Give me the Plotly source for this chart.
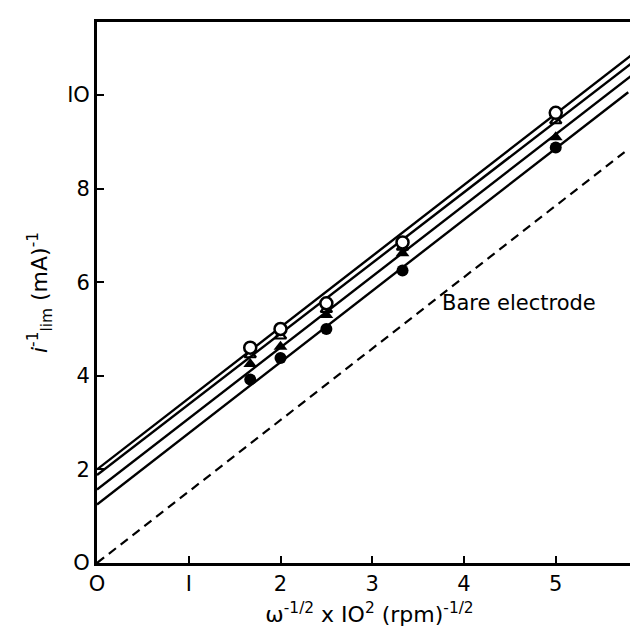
import plotly.graph_objects as go

# Data
x_pts = [1.67, 2.0, 2.5, 3.33, 5.0]
open_circles = [4.60, 5.00, 5.55, 6.85, 9.62]
open_triangles = [4.45, 4.85, 5.42, 6.75, 9.45]
filled_triangles = [4.25, 4.62, 5.30, 6.62, 9.10]
filled_circles = [3.92, 4.38, 5.00, 6.25, 8.88]

# fitted straight lines: (x start, x end) and (y start, y end)
fit_x = [[0, 5.87], [0, 5.86], [0, 5.85], [0, 5.79]]
fit_y = [[2.00, 10.92], [1.88, 10.73], [1.57, 10.45], [1.25, 10.06]]
bare_x = [0, 5.75]
bare_y = [0, 8.78]

x_ticks = [0, 1, 2, 3, 4, 5]
x_ticklabels = ["O", "I", "2", "3", "4", "5"]
y_ticks = [0, 2, 4, 6, 8, 10]
y_ticklabels = ["O", "2", "4", "6", "8", "IO"]

FONT = "DejaVu Sans"

fig = go.Figure()
for fx, fy in zip(fit_x, fit_y):
    fig.add_trace(go.Scatter(x=fx, y=fy, mode="lines",
                             line=dict(color="black", width=2.4),
                             showlegend=False, hoverinfo="skip"))
fig.add_trace(go.Scatter(x=bare_x, y=bare_y, mode="lines",
                         line=dict(color="black", width=2.2, dash="9px,6px"),
                         showlegend=False))

fig.add_trace(go.Scatter(x=x_pts, y=filled_circles, mode="markers",
                         marker=dict(symbol="circle", size=12, color="black"),
                         showlegend=False))
fig.add_trace(go.Scatter(x=x_pts, y=filled_triangles, mode="markers",
                         marker=dict(symbol="triangle-up", size=12, color="black"),
                         showlegend=False))
fig.add_trace(go.Scatter(x=x_pts, y=open_triangles, mode="markers",
                         marker=dict(symbol="triangle-up-open", size=10, color="black",
                                     line=dict(width=2.2)),
                         showlegend=False))
fig.add_trace(go.Scatter(x=x_pts, y=open_circles, mode="markers",
                         marker=dict(symbol="circle", size=12, color="white",
                                     line=dict(color="black", width=2.5)),
                         showlegend=False))

fig.add_annotation(x=4.6, y=5.55, text="Bare electrode", showarrow=False,
                   font=dict(family=FONT, size=21, color="black"))

fig.update_layout(
    width=638, height=637,
    margin=dict(l=89, r=1, t=14, b=82),
    paper_bgcolor="white", plot_bgcolor="white",
    font=dict(family=FONT, size=21, color="black"),
    xaxis=dict(range=[0, 5.94], tickvals=x_ticks, ticktext=x_ticklabels,
               ticks="inside", ticklen=7, tickwidth=2, tickcolor="black",
               showline=True, linecolor="black", linewidth=2.8, mirror=True,
               showgrid=False, zeroline=False,
               title=dict(text="ω<sup>-1/2</sup> x IO<sup>2</sup> (rpm)<sup>-1/2</sup>",
                          font=dict(size=22), standoff=12)),
    yaxis=dict(range=[0, 11.56], tickvals=y_ticks, ticktext=y_ticklabels,
               ticks="inside", ticklen=7, tickwidth=2, tickcolor="black",
               showline=True, linecolor="black", linewidth=2.8, mirror=True,
               showgrid=False, zeroline=False,
               title=dict(text="<i>i</i><sup>-1</sup><sub>lim</sub> (mA)<sup>-1</sup>",
                          font=dict(size=22), standoff=14)),
)

fig.write_html("out.html")
